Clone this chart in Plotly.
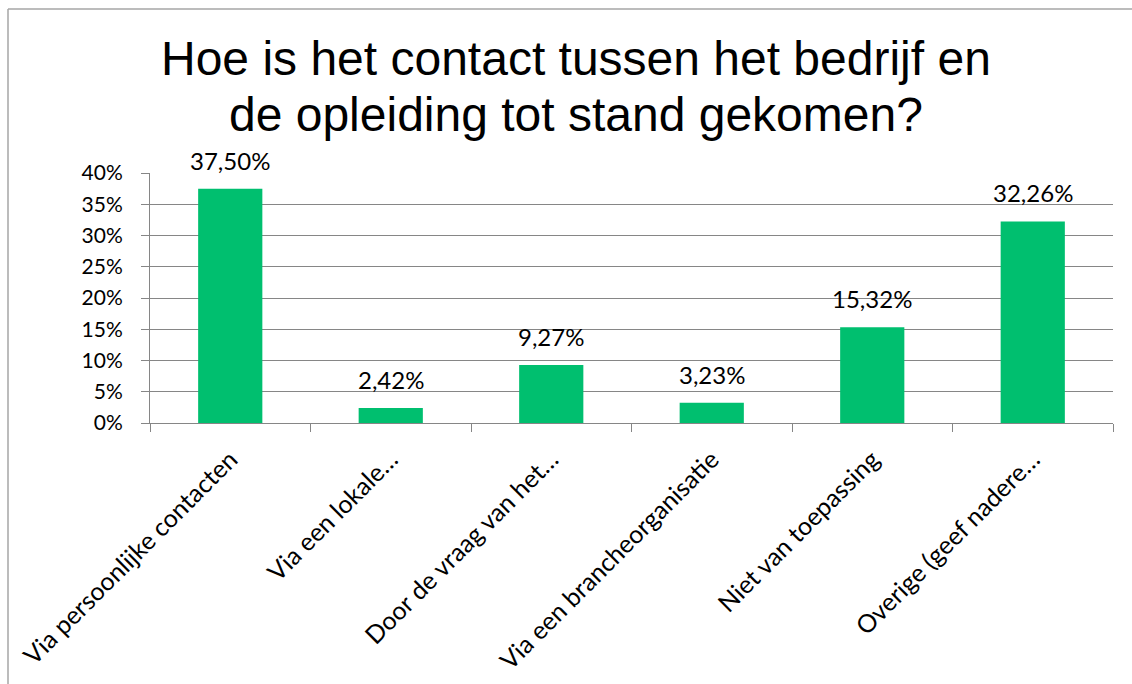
import plotly.graph_objects as go

categories = [
    "Via persoonlijke contacten",
    "Via een lokale…",
    "Door de vraag van het…",
    "Via een brancheorganisatie",
    "Niet van toepassing",
    "Overige (geef nadere…",
]
values = [37.50, 2.42, 9.27, 3.23, 15.32, 32.26]
y_ticks = [0, 5, 10, 15, 20, 25, 30, 35, 40]
title_lines = ["Hoe is het contact tussen het bedrijf en", "de opleiding tot stand gekomen?"]

labels = [f"{v:.2f}%".replace(".", ",") for v in values]

W, H = 1132, 684
L, R, T, B = 150, 19, 173, 261
plot_w = W - L - R
plot_h = H - T - B

fig = go.Figure(
    go.Bar(
        x=categories,
        y=values,
        marker=dict(color="#00BF6F", line=dict(width=0)),
        hoverinfo="skip",
    )
)

font_ui = "Lato"
fig.update_layout(
    width=W,
    height=H,
    autosize=False,
    margin=dict(l=L, r=R, t=T, b=B, pad=0),
    paper_bgcolor="white",
    plot_bgcolor="white",
    bargap=0.6,
    showlegend=False,
    font=dict(family=font_ui, size=21, color="#000000"),
)
fig.update_xaxes(
    type="category",
    automargin=False,
    tickangle=-45,
    tickfont=dict(family=font_ui, size=25, color="#000000"),
    ticklabelstandoff=11,
    showline=True,
    linecolor="#868686",
    linewidth=1,
    ticks="outside",
    tickson="boundaries",
    ticklen=8,
    tickcolor="#868686",
    showgrid=False,
)
fig.update_yaxes(
    range=[0, 40],
    automargin=False,
    tickvals=y_ticks,
    ticktext=[f"{t}%" for t in y_ticks],
    tickfont=dict(family=font_ui, size=21, color="#000000"),
    ticklabelstandoff=14,
    showgrid=True,
    gridcolor="#868686",
    gridwidth=1,
    showline=True,
    linecolor="#868686",
    linewidth=1,
    ticks="outside",
    ticklen=8,
    tickcolor="#868686",
    zeroline=False,
)

# data labels
for c, v, lab in zip(categories, values, labels):
    fig.add_annotation(
        x=c, y=v, xref="x", yref="y",
        text=lab, showarrow=False,
        xanchor="center", yanchor="bottom", yshift=12,
        font=dict(family=font_ui, size=24, color="#000000"),
    )

# title lines as annotations (pixel -> paper)
def px_x(x):
    return (x - L) / plot_w

def px_y(y):
    return (H - B - y) / plot_h

title_y = [58, 114]
for line, yy in zip(title_lines, title_y):
    fig.add_annotation(
        text=line,
        xref="paper", yref="paper",
        x=px_x(576), y=px_y(yy),
        xanchor="center", yanchor="middle",
        showarrow=False,
        font=dict(family="Liberation Sans", size=48, color="#000000"),
    )

# chart border
fig.add_shape(
    type="line", xref="paper", yref="paper",
    x0=px_x(8), x1=px_x(8), y0=px_y(9), y1=px_y(H + 5),
    line=dict(color="#A6A6A6", width=1.5),
)
fig.add_shape(
    type="line", xref="paper", yref="paper",
    x0=px_x(8), x1=px_x(W + 5), y0=px_y(9), y1=px_y(9),
    line=dict(color="#A6A6A6", width=1.5),
)

fig.write_html(
    "out.html",
    config={"displayModeBar": False},
    post_script="document.body.style.margin='0px';document.body.style.overflow='hidden';",
)
